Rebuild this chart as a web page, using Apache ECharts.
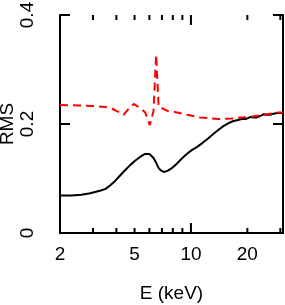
<!DOCTYPE html>
<html>
<head>
<meta charset="utf-8">
<script src="https://cdn.jsdelivr.net/npm/echarts@6/dist/echarts.min.js"></script>
<style>html,body{margin:0;padding:0;background:#fff}#c{width:285px;height:305px}</style>
</head>
<body>
<div id="c"></div>
<script>
// Energy (keV) and RMS values
var blackE   = [2.0, 2.3, 2.6, 2.9, 3.3, 3.5, 3.7, 3.95, 4.2, 4.5, 4.75, 5.05, 5.37, 5.7, 6.0, 6.3, 6.5, 6.7, 6.9, 7.15, 7.5, 7.9, 8.4, 8.9, 9.5, 10.1, 10.8, 11.5, 12.3, 13.2, 14.1, 14.9, 15.8, 16.7, 17.6, 18.7, 19.6, 20.8, 21.6, 22.5, 23.5, 24.5, 25.5, 26.5, 27.5, 29.0, 31.0];
var blackRMS = [0.069, 0.069, 0.070, 0.073, 0.078, 0.081, 0.087, 0.096, 0.106, 0.117, 0.125, 0.133, 0.140, 0.145, 0.145, 0.138, 0.130, 0.120, 0.115, 0.112, 0.114, 0.119, 0.127, 0.136, 0.145, 0.152, 0.158, 0.165, 0.173, 0.182, 0.190, 0.196, 0.201, 0.205, 0.207, 0.209, 0.209, 0.213, 0.212, 0.212, 0.215, 0.218, 0.217, 0.217, 0.219, 0.220, 0.220];
var redE     = [2.0, 2.5, 3.0, 3.5, 3.8, 4.0, 4.37, 4.6, 4.95, 5.37, 5.7, 6.03, 6.31, 6.52, 6.72, 7.5, 8.2, 9.5, 11.2, 14.0, 16.5, 18.6, 20.8, 24.5, 28.9, 31.0];
var redRMS   = [0.235, 0.234, 0.233, 0.231, 0.228, 0.224, 0.217, 0.226, 0.237, 0.229, 0.221, 0.198, 0.224, 0.327, 0.232, 0.224, 0.222, 0.217, 0.212, 0.209, 0.210, 0.212, 0.213, 0.217, 0.221, 0.221];
var xLabelValues = [2, 5, 10, 20];
var xMinorTicks  = [3, 4, 5, 6, 7, 8, 9, 20, 30];
var xMajorTicks  = [10];
var xRange = [2, 31];
var yTicks = [0, 0.2, 0.4];

var lg = function (v) { return Math.log10(v); };
var FONT = 'Liberation Sans, Arial, Helvetica, sans-serif';
var FS = 19;
var chart = echarts.init(document.getElementById('c'), null, {renderer: 'canvas'});

var frameLine = {show: true, lineStyle: {color: '#000', width: 2}};

var option = {
  animation: false,
  backgroundColor: '#fff',
  grid: {left: 60, right: 2, top: 15, bottom: 72, containLabel: false, outerBoundsMode: 'none'},
  xAxis: [
    {type: 'value', position: 'bottom', min: lg(xRange[0]), max: lg(xRange[1]),
     axisLine: frameLine, axisTick: {show: false}, splitLine: {show: false},
     axisLabel: {show: true, customValues: xLabelValues.map(lg), margin: 12,
       formatter: function (v) { return String(Math.round(Math.pow(10, v))); },
       color: '#000', fontSize: FS, fontFamily: FONT},
     name: 'E (keV)', nameLocation: 'middle', nameGap: 51, nameMoveOverlap: false,
     nameTextStyle: {color: '#000', fontSize: FS, fontFamily: FONT}},
    {type: 'value', position: 'top', min: lg(xRange[0]), max: lg(xRange[1]),
     axisLine: frameLine, axisTick: {show: false}, splitLine: {show: false}, axisLabel: {show: false}}
  ],
  yAxis: [
    {type: 'value', position: 'left', min: 0, max: 0.4, interval: 0.2,
     axisLine: frameLine,
     axisTick: {show: true, inside: true, length: 10, lineStyle: {color: '#000', width: 2}},
     splitLine: {show: false},
     axisLabel: {show: true, rotate: 90, margin: 23, color: '#000', fontSize: FS, fontFamily: FONT,
       formatter: function (v) { return v === 0 ? '0' : v.toFixed(1); }},
     name: 'RMS', nameLocation: 'middle', nameRotate: 90, nameGap: 43, nameMoveOverlap: false,
     nameTextStyle: {color: '#000', fontSize: FS, fontFamily: FONT}},
    {type: 'value', position: 'right', min: 0, max: 0.4, interval: 0.2,
     axisLine: frameLine,
     axisTick: {show: true, inside: true, length: 10, lineStyle: {color: '#000', width: 2}},
     splitLine: {show: false}, axisLabel: {show: false}}
  ],
  series: [
    {type: 'line', xAxisIndex: 0, yAxisIndex: 0, showSymbol: false, smooth: false,
     lineStyle: {color: '#000', width: 2},
     data: blackE.map(function (e, i) { return [lg(e), blackRMS[i]]; })},
    {type: 'line', xAxisIndex: 0, yAxisIndex: 0, showSymbol: false, smooth: false,
     lineStyle: {color: '#ff0000', width: 2, type: [8, 5]},
     data: redE.map(function (e, i) { return [lg(e), redRMS[i]]; })},
    // log-axis tick marks (bottom and top), placed through the x scale
    {type: 'custom', xAxisIndex: 0, yAxisIndex: 0, silent: true, clip: false, z: 10,
     data: xMinorTicks.concat(xMajorTicks).map(function (v) { return [lg(v)]; }),
     renderItem: function (params, api) {
       var xv = api.value(0);
       var isMajor = xMajorTicks.some(function (m) { return Math.abs(lg(m) - xv) < 1e-9; });
       var len = isMajor ? 10 : 5;
       var b = api.coord([xv, yTicks[0]]);
       var t = api.coord([xv, yTicks[yTicks.length - 1]]);
       return {type: 'group', children: [
         {type: 'line', shape: {x1: b[0], y1: b[1], x2: b[0], y2: b[1] - len}, style: {stroke: '#000', lineWidth: 2}},
         {type: 'line', shape: {x1: t[0], y1: t[1], x2: t[0], y2: t[1] + len}, style: {stroke: '#000', lineWidth: 2}}
       ]};
     }}
  ]
};
chart.setOption(option);
</script>
</body>
</html>
